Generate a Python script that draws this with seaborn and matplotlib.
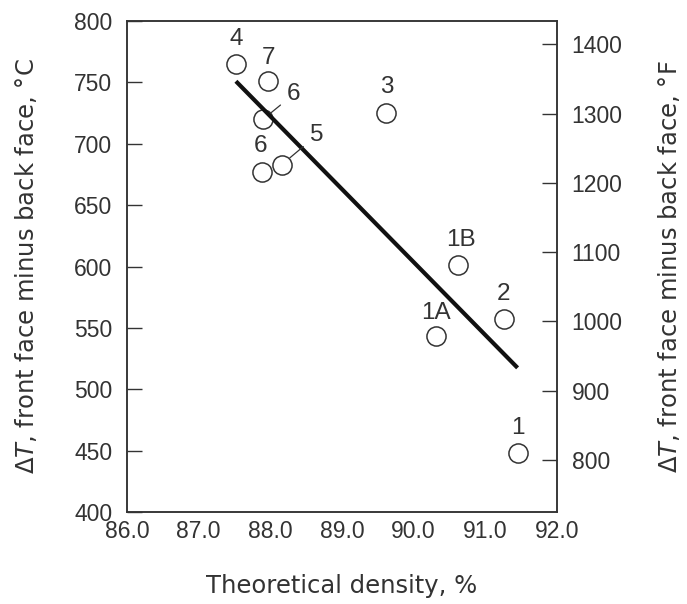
import matplotlib
matplotlib.use("Agg")
import matplotlib.pyplot as plt
import seaborn as sns
import pandas as pd

# ---- data ----
labels = ["4", "7", "6", "6", "5", "3", "1B", "1A", "2", "1"]
density = [87.52, 87.97, 87.90, 87.88, 88.16, 89.62, 90.62, 90.31, 91.26, 91.45]
delta_t_c = [765, 751, 720, 677, 683, 725, 601, 543, 557, 448]
x_ticks = [86.0, 87.0, 88.0, 89.0, 90.0, 91.0, 92.0]
y_ticks_c = [400, 450, 500, 550, 600, 650, 700, 750, 800]
y_ticks_f = [800, 900, 1000, 1100, 1200, 1300, 1400]

df = pd.DataFrame({"density": density, "dt": delta_t_c, "label": labels})

sns.set_theme(style="white")
plt.rcParams["font.family"] = ["DejaVu Sans"]
plt.rcParams["mathtext.fontset"] = "dejavusans"

TXT = "#333333"
fig = plt.figure(figsize=(6.87, 6.04), dpi=100)
ax = fig.add_axes([127 / 687, 1 - 512 / 604, 430 / 687, 491 / 604])

sns.scatterplot(data=df, x="density", y="dt", ax=ax, s=190, marker="o",
                facecolor="white", edgecolor="#333333", linewidth=1.1,
                zorder=2, legend=False)
sns.regplot(data=df, x="density", y="dt", ax=ax, scatter=False, ci=None,
            truncate=True, color="#111111",
            line_kws={"linewidth": 3.0, "zorder": 3, "solid_capstyle": "butt"})

# point labels (offsets in points)
offsets = {0: (0, 18), 1: (0, 17), 2: (22, 18), 3: (-1, 19), 4: (25, 21),
           5: (0, 19), 6: (2, 18), 7: (0, 17), 8: (0, 18), 9: (0, 18)}
leaders = {2, 4}
for i, (xv, yv, lab) in enumerate(zip(density, delta_t_c, labels)):
    dx, dy = offsets[i]
    kw = {}
    if i in leaders:
        kw["arrowprops"] = dict(arrowstyle="-", color="#333333", lw=0.9,
                                shrinkA=3, shrinkB=7.5)
    ax.annotate(lab, xy=(xv, yv), xytext=(dx, dy), textcoords="offset points",
                ha="center", va="center", fontsize=17.5,
                family=["Liberation Sans"], color=TXT, zorder=4, **kw)

ax.set_xlim(86, 92)
ax.set_ylim(400, 800)
ax.set_xticks(x_ticks)
ax.set_xticklabels([f"{v:.1f}" for v in x_ticks])
ax.set_yticks(y_ticks_c)
ax.set_yticklabels([str(v) for v in y_ticks_c])

tick_font = ["Liberation Sans Narrow", "Liberation Sans"]
for lab in ax.get_xticklabels() + ax.get_yticklabels():
    lab.set_family(tick_font)
    lab.set_fontsize(16.5)
    lab.set_color(TXT)

ax.tick_params(axis="both", direction="in", length=11, width=1.0,
               color="#333333", top=False, right=False)
ax.tick_params(axis="y", pad=10.5)
ax.tick_params(axis="x", pad=6)

for sp in ax.spines.values():
    sp.set_color("#333333")
    sp.set_linewidth(1.1)

ax.set_xlabel("Theoretical density, %", fontsize=17.5, color=TXT, labelpad=22)
ax.set_ylabel("Δ$T$, front face minus back face, °C", fontsize=17.5,
              color=TXT, labelpad=25)

ax2 = ax.twinx()
ax2.set_ylim(724.9, 1433.6)
ax2.set_yticks(y_ticks_f)
ax2.set_yticklabels([str(v) for v in y_ticks_f])
for lab in ax2.get_yticklabels():
    lab.set_family(tick_font)
    lab.set_fontsize(16.5)
    lab.set_color(TXT)
ax2.tick_params(axis="y", direction="in", length=11, width=1.0,
                color="#333333", pad=10.5)
for sp in ax2.spines.values():
    sp.set_color("#333333")
    sp.set_linewidth(1.1)
ax2.set_ylabel("Δ$T$, front face minus back face, °F", fontsize=17.5,
               color=TXT, labelpad=24)
ax2.grid(False)
ax.grid(False)

fig.savefig("out.png", dpi=100)
